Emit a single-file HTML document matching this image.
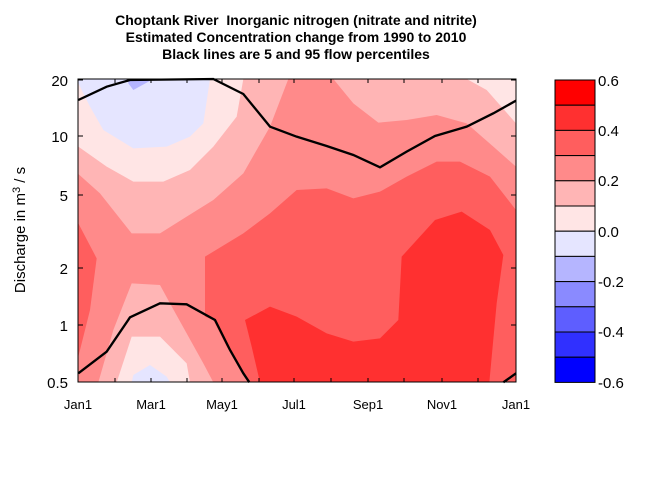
<!DOCTYPE html>
<html><head><style>body{margin:0;background:#fff}svg{display:block}text{font-family:"Liberation Sans",Arial,sans-serif}</style></head>
<body>
<svg width="672" height="480" xmlns="http://www.w3.org/2000/svg">
<g font-weight="bold" font-size="14" text-anchor="middle" fill="#000">
<text x="296" y="25">Choptank River &#160;Inorganic nitrogen (nitrate and nitrite)</text>
<text x="296" y="42">Estimated Concentration change from 1990 to 2010</text>
<text x="296" y="59">Black lines are 5 and 95 flow percentiles</text>
</g>
<g transform="translate(70,70) scale(0.33333)">
<rect x="25" y="27" width="1313" height="910" fill="#FF8A8A"/>
<polygon fill="#FFB5B5" points="25,27 655,27 600,170 520,310 430,390 350,440 270,490 185,490 90,370 25,312"/>
<polygon fill="#FFB5B5" points="790,27 850,100 925,158 1010,150 1100,135 1190,160 1270,230 1338,290 1338,27"/>
<polygon fill="#FFB5B5" points="85,937 130,780 185,640 270,645 300,700 350,790 400,880 430,937"/>
<polygon fill="#FFE5E5" points="25,27 520,27 500,140 430,230 360,300 280,335 190,335 110,290 25,230"/>
<polygon fill="#FFE5E5" points="1190,27 1250,60 1338,160 1338,27"/>
<polygon fill="#FFE5E5" points="140,937 185,800 270,800 350,880 360,937"/>
<polygon fill="#E5E5FF" points="25,27 420,27 400,160 360,200 290,230 190,235 100,180 60,110 25,40"/>
<polygon fill="#B5B5FF" points="175,27 250,27 190,60 175,40"/>
<polygon fill="#E5E5FF" points="185,937 190,915 240,885 290,920 300,937"/>
<polygon fill="#FF5E5E" points="405,560 520,490 600,430 680,360 770,355 850,385 930,365 1010,320 1100,275 1170,275 1260,320 1338,420 1338,937 540,937 520,910 470,830 430,750 405,740"/>
<polygon fill="#FF5E5E" points="25,460 80,565 60,720 25,860"/>
<polygon fill="#FF3030" points="525,750 600,710 680,740 770,790 850,815 930,805 985,750 995,560 1095,450 1175,425 1260,480 1300,555 1280,700 1258,937 570,937 545,830"/>
<g fill="none" stroke="#000" stroke-width="7">
<polyline points="25,90 110,50 180,30 430,27 520,72 600,170 680,200 770,228 850,255 930,292 1010,245 1095,198 1190,170 1270,130 1338,92"/>
<polyline points="25,910 110,845 180,742 270,700 350,703 435,750 480,840 520,910 538,937"/>
<polyline points="1300,937 1338,910"/>
</g>
</g>
<rect x="78" y="79" width="438" height="303" fill="none" stroke="#000" stroke-width="1"/>
<g stroke="#000" stroke-width="1">
<path d="M78,80h5M78,136h5M78,195h5M78,268h5M78,325h5M511,80h5M511,136h5M511,195h5M511,268h5M511,325h5"/>
<path d="M115,382v-4M151,382v-4M187,382v-4M222,382v-4M259,382v-4M294,382v-4M331,382v-4M368,382v-4M404,382v-4M442,382v-4M478,382v-4"/>
<path d="M115,79v4M151,79v4M187,79v4M222,79v4M259,79v4M294,79v4M331,79v4M368,79v4M404,79v4M442,79v4M478,79v4"/>
</g>
<g font-size="15" text-anchor="end" fill="#000">
<text x="68" y="86">20</text><text x="68" y="142">10</text><text x="68" y="201">5</text><text x="68" y="274">2</text><text x="68" y="331">1</text><text x="68" y="388">0.5</text>
</g>
<g font-size="13" text-anchor="middle" fill="#000">
<text x="78" y="409">Jan1</text><text x="151" y="409">Mar1</text><text x="222" y="409">May1</text><text x="294" y="409">Jul1</text><text x="368" y="409">Sep1</text><text x="442" y="409">Nov1</text><text x="516" y="409">Jan1</text>
</g>
<text transform="translate(25,230) rotate(-90)" font-size="15" text-anchor="middle">Discharge in m<tspan dy="-5" font-size="11">3</tspan><tspan dy="5"> / s</tspan></text>
<g stroke="#000" stroke-width="1">
<rect x="555" y="80" width="40" height="25.2" fill="#FF0000"/>
<rect x="555" y="105.2" width="40" height="25.2" fill="#FF3030"/>
<rect x="555" y="130.4" width="40" height="25.2" fill="#FF5E5E"/>
<rect x="555" y="155.6" width="40" height="25.2" fill="#FF8A8A"/>
<rect x="555" y="180.8" width="40" height="25.2" fill="#FFB5B5"/>
<rect x="555" y="206" width="40" height="25.2" fill="#FFE5E5"/>
<rect x="555" y="231.2" width="40" height="25.2" fill="#E5E5FF"/>
<rect x="555" y="256.4" width="40" height="25.2" fill="#B5B5FF"/>
<rect x="555" y="281.6" width="40" height="25.2" fill="#8A8AFF"/>
<rect x="555" y="306.8" width="40" height="25.2" fill="#5E5EFF"/>
<rect x="555" y="332" width="40" height="25.2" fill="#3030FF"/>
<rect x="555" y="357.2" width="40" height="25.2" fill="#0000FF"/>
</g>
<g font-size="15" fill="#000">
<text x="598" y="86">0.6</text><text x="598" y="136">0.4</text><text x="598" y="186">0.2</text><text x="598" y="237">0.0</text><text x="598" y="287">-0.2</text><text x="598" y="337">-0.4</text><text x="598" y="388">-0.6</text>
</g>
</svg>
</body></html>
